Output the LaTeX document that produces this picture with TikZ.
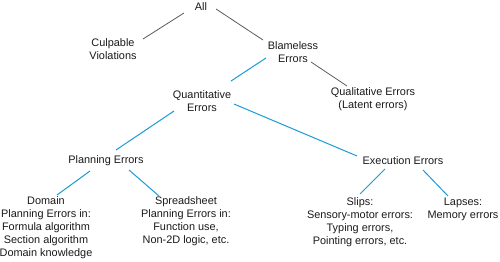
\documentclass[tikz,border=0pt]{standalone}
\usepackage{fontspec}
\setmainfont{Liberation Sans}
\usetikzlibrary{positioning}
\definecolor{linkgray}{HTML}{5A5A5A}
\definecolor{linkblue}{HTML}{1A9BD7}
\definecolor{txtgray}{HTML}{1A1A1A}

\begin{document}
\begin{tikzpicture}[x=1pt,y=-1pt,
    cat/.style={align=center,inner sep=0pt,text=txtgray,
      font=\fontsize{10.9}{13}\selectfont},
    grayln/.style={draw=linkgray,line width=0.8pt},
    blueln/.style={draw=linkblue,line width=1pt}]
    \useasboundingbox (0,0) rectangle (500,262);

    \node[cat] (all)    at (201,7)   {All};
    \node[cat] (culp)   at (113,49)  {Culpable\\Violations};
    \node[cat] (blame)  at (293,52)  {Blameless\\Errors};
    \node[cat] (quant)  at (202,101) {Quantitative\\Errors};
    \node[cat] (qual)   at (373,99)  {Qualitative Errors\\(Latent errors)};
    \node[cat] (plan)   at (106,161) {Planning Errors};
    \node[cat] (exec)   at (403,161) {Execution Errors};
    \node[cat] (dom)    at (46,228)  {Domain\\Planning Errors in:\\Formula algorithm\\Section algorithm\\Domain knowledge};
    \node[cat] (spread) at (186,221) {Spreadsheet\\Planning Errors in:\\Function use,\\Non-2D logic, etc.};
    \node[cat] (slips)  at (360,222) {Slips:\\Sensory-motor errors:\\Typing errors,\\Pointing errors, etc.};
    \node[cat] (laps)   at (463,209) {Lapses:\\Memory errors};

    \path[grayln]
      ([shift={(-17,6)}]all.center)   edge ([shift={(30,-10)}]culp.center)
      ([shift={(15,2)}]all.center)    edge ([shift={(-30,-12)}]blame.center)
      ([shift={(18,10)}]blame.center) edge ([shift={(-26,-13)}]qual.center);
    \path[blueln]
      ([shift={(-27,6)}]blame.center) edge ([shift={(29,-20)}]quant.center)
      ([shift={(-28,10)}]quant.center) edge ([shift={(10,-11)}]plan.center)
      ([shift={(32,3)}]quant.center)  edge ([shift={(-46,-5)}]exec.center)
      ([shift={(-16,10)}]plan.center) edge ([shift={(11,-33)}]dom.center)
      ([shift={(23,9)}]plan.center)   edge ([shift={(-27,-25)}]spread.center)
      ([shift={(-18,8)}]exec.center)  edge ([shift={(0,-28)}]slips.center)
      ([shift={(20,9)}]exec.center)   edge ([shift={(-15,-13)}]laps.center);
\end{tikzpicture}
\end{document}
